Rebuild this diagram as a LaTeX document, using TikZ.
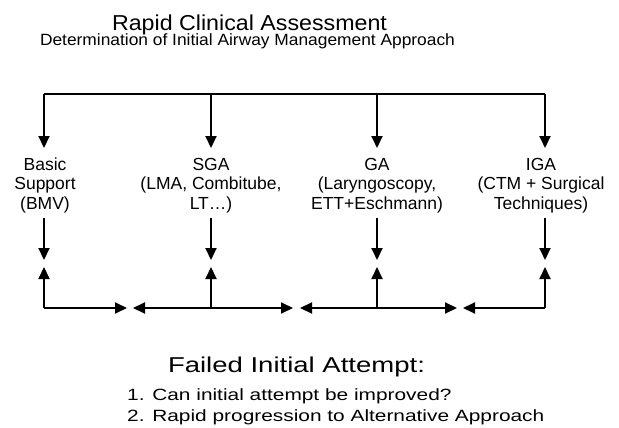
\documentclass[tikz,border=0pt]{standalone}
\usepackage{fontspec}
\setmainfont{Liberation Sans}
\usetikzlibrary{arrows.meta}
\begin{document}
\begin{tikzpicture}[x=1pt,y=-1pt,
  conn/.style={line width=2pt,-{Triangle[length=12pt,width=11pt]}},
  wire/.style={line width=2pt},
  lab/.style={font=\fontsize{17.5}{19.5}\selectfont,align=center,anchor=base,inner sep=0pt},
  txt/.style={inner sep=0pt}]
\useasboundingbox (0,0) rectangle (619,428);

% titles
\node[txt,anchor=base] (title) at (249.5,30.7)
  {\fontsize{21.6}{26}\selectfont\scalebox{1.075}[1]{Rapid Clinical Assessment}};
\node[txt,anchor=base] (subtitle) at (247.5,46)
  {\fontsize{16.3}{20}\selectfont\scalebox{1.065}[1]{Determination of Initial Airway Management Approach}};

% top distribution points
\coordinate (t1) at (44,94);
\coordinate (t2) at (211,94);
\coordinate (t3) at (377,94);
\coordinate (t4) at (545,94);
\coordinate (h1) at (44,148);
\coordinate (h2) at (211,148);
\coordinate (h3) at (377,148);
\coordinate (h4) at (545,148);

\draw[wire] (t1) -- (t4);
\draw[conn] (t1) -- (h1);
\draw[conn] (t2) -- (h2);
\draw[conn] (t3) -- (h3);
\draw[conn] (t4) -- (h4);

% labels (anchor base = baseline of last line)
\node[lab] (basic) at (45,209) {Basic\\Support\\(BMV)};
\node[lab] (sga) at (211,209) {SGA\\(LMA, Combitube,\\LT\dots)};
\node[lab] (ga) at (377,209) {GA\\(Laryngoscopy,\\ETT+Eschmann)};
\node[lab] (iga) at (541,209) {IGA\\(CTM + Surgical\\Techniques)};

% lower down arrows
\coordinate (d1) at (44,218);
\coordinate (d2) at (211,218);
\coordinate (d3) at (377,218);
\coordinate (d4) at (545,218);
\coordinate (e1) at (44,260);
\coordinate (e2) at (211,260);
\coordinate (e3) at (377,260);
\coordinate (e4) at (545,260);
\draw[conn] (d1) -- (e1);
\draw[conn] (d2) -- (e2);
\draw[conn] (d3) -- (e3);
\draw[conn] (d4) -- (e4);

% bottom line
\coordinate (b1) at (44,308);
\coordinate (b2) at (211,308);
\coordinate (b3) at (377,308);
\coordinate (b4) at (545,308);
\coordinate (u1) at (44,267);
\coordinate (u2) at (211,267);
\coordinate (u3) at (377,267);
\coordinate (u4) at (545,267);
\draw[conn] (b1) -- (u1);
\draw[conn] (b2) -- (u2);
\draw[conn] (b3) -- (u3);
\draw[conn] (b4) -- (u4);

\coordinate (r1) at (127,308);
\coordinate (l2) at (133,308);
\coordinate (r2) at (293,308);
\coordinate (l3) at (300,308);
\coordinate (r3) at (457,308);
\coordinate (l4) at (463,308);
\draw[conn] (b1) -- (r1);
\draw[conn] (b2) -- (l2);
\draw[conn] (b2) -- (r2);
\draw[conn] (b3) -- (l3);
\draw[conn] (b3) -- (r3);
\draw[conn] (b4) -- (l4);

% bottom text
\node[txt,anchor=base] (failed) at (296.5,372.7)
  {\fontsize{21.5}{26}\selectfont\scalebox{1.28}[1]{Failed Initial Attempt:}};
\node[txt,anchor=base west] (q1) at (127,400)
  {\fontsize{16.3}{20}\selectfont\scalebox{1.28}[1]{1. Can initial attempt be improved?}};
\node[txt,anchor=base west] (q2) at (127,421.7)
  {\fontsize{16.3}{20}\selectfont\scalebox{1.28}[1]{2. Rapid progression to Alternative Approach}};
\end{tikzpicture}
\end{document}
